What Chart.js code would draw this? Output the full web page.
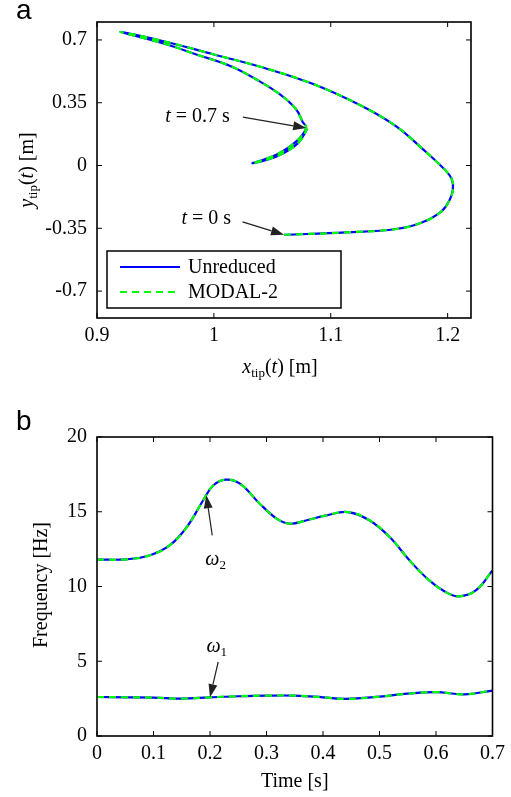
<!DOCTYPE html>
<html lang="en">
<head>
  <meta charset="UTF-8">
  <title>Tip trajectory and natural frequencies</title>
  <script src="https://cdn.jsdelivr.net/npm/chart.js"></script>
  <style>
    body { margin: 0; background: #fff; }
    canvas { position: absolute; left: 0; }
    #tipChart { top: 0; }
    #freqChart { top: 400px; }
  </style>
</head>
<body>
  <canvas id="tipChart" width="511" height="400"></canvas>
  <canvas id="freqChart" width="511" height="397"></canvas>

  <script>
    // Tip trajectory (t = 0 s first, t = 0.7 s last)
    const tipX = [1.060, 1.113, 1.156, 1.178, 1.195, 1.2015, 1.2045, 1.2035, 1.197, 1.179, 1.156, 1.127,
                  1.085, 1.042, 1.000, 0.957, 0.920,
                  0.957, 0.985, 1.014, 1.036, 1.056, 1.070, 1.076, 1.079,
                  1.070, 1.053, 1.033, 1.055, 1.072, 1.080];
    const tipY = [-0.386, -0.373, -0.354, -0.318, -0.254, -0.195, -0.135, -0.075, -0.020, 0.090, 0.218, 0.330,
                  0.454, 0.546, 0.619, 0.693, 0.744,
                  0.680, 0.619, 0.555, 0.481, 0.399, 0.316, 0.243, 0.209,
                  0.132, 0.059, 0.013, 0.055, 0.125, 0.205];
    const xTicksA = [0.9, 1.0, 1.1, 1.2];
    const xLabelsA = ['0.9', '1', '1.1', '1.2'];
    const yTicksA = [-0.7, -0.35, 0, 0.35, 0.7];
    const yLabelsA = ['-0.7', '-0.35', '0', '0.35', '0.7'];

    // Natural frequencies [Hz] against time [s]
    const timeW2 = [0, 0.053, 0.094, 0.129, 0.159, 0.188, 0.206, 0.228, 0.253, 0.288, 0.318, 0.341,
                    0.371, 0.406, 0.444, 0.482, 0.518, 0.553, 0.588, 0.617, 0.641, 0.671, 0.7];
    const omega2 = [11.8, 11.82, 12.09, 12.76, 13.98, 15.77, 16.77, 17.15, 16.88, 15.54, 14.54, 14.2,
                    14.43, 14.76, 14.98, 14.43, 13.31, 11.75, 10.41, 9.63, 9.34, 9.75, 11.08];
    const timeW1 = [0, 0.05, 0.1, 0.15, 0.2, 0.25, 0.3, 0.35, 0.4, 0.44, 0.5, 0.55, 0.6, 0.65, 0.7];
    const omega1 = [2.61, 2.59, 2.57, 2.50, 2.59, 2.66, 2.70, 2.70, 2.59, 2.48, 2.63, 2.83, 2.94, 2.79, 3.04];
    const xTicksB = [0, 0.1, 0.2, 0.3, 0.4, 0.5, 0.6, 0.7];
    const yTicksB = [0, 5, 10, 15, 20];

    const seriesNames = ['Unreduced', 'MODAL-2'];

    const SERIF = '"Liberation Serif", "Times New Roman", serif';
    const SANS = '"Liberation Sans", Arial, sans-serif';
    const BLUE = '#0000ff';
    const GREEN = '#00ff00';
    const DASH = [7, 5];

    function points(xs, ys) {
      return xs.map((x, i) => ({ x: x, y: ys[i] }));
    }

    // blue solid underneath, green dashed drawn on top (higher order is drawn first)
    function curvePair(xs, ys, tension) {
      return [
        { label: seriesNames[0], data: points(xs, ys), order: 2, borderColor: BLUE, borderWidth: 2.2,
          pointRadius: 0, showLine: true, tension: tension },
        { label: seriesNames[1], data: points(xs, ys), order: 1, borderColor: GREEN, borderWidth: 2.2,
          borderDash: DASH, pointRadius: 0, showLine: true, tension: tension }
      ];
    }

    // text with italic / subscript pieces, centred on (cx, cy)
    function richText(ctx, parts, cx, cy, size, rotate) {
      const fontOf = p => (p.it ? 'italic ' : '') + (p.sub ? Math.round(size * 0.65) : size) + 'px ' + SERIF;
      ctx.save();
      ctx.translate(cx, cy);
      if (rotate) ctx.rotate(-Math.PI / 2);
      let w = 0;
      parts.forEach(p => { ctx.font = fontOf(p); w += ctx.measureText(p.t).width; });
      let x = -w / 2;
      ctx.fillStyle = '#000';
      ctx.textAlign = 'left';
      ctx.textBaseline = 'alphabetic';
      parts.forEach(p => {
        ctx.font = fontOf(p);
        ctx.fillText(p.t, x, size * 0.33 + (p.sub ? size * 0.22 : 0));
        x += ctx.measureText(p.t).width;
      });
      ctx.restore();
    }

    function arrow(ctx, x0, y0, x1, y1) {
      const ang = Math.atan2(y1 - y0, x1 - x0);
      const len = 13, half = 4.5;
      const c = Math.cos(ang), s = Math.sin(ang);
      ctx.save();
      ctx.strokeStyle = '#222';
      ctx.fillStyle = '#222';
      ctx.lineWidth = 1.2;
      ctx.beginPath();
      ctx.moveTo(x0, y0);
      ctx.lineTo(x1 - len * c, y1 - len * s);
      ctx.stroke();
      ctx.beginPath();
      ctx.moveTo(x1, y1);
      ctx.lineTo(x1 - len * c + half * s, y1 - len * s - half * c);
      ctx.lineTo(x1 - len * c - half * s, y1 - len * s + half * c);
      ctx.closePath();
      ctx.fill();
      ctx.restore();
    }

    // box round the plot with inward ticks on all four sides
    function drawFrame(chart, xt, yt) {
      const { ctx, chartArea: a, scales } = chart;
      ctx.save();
      ctx.strokeStyle = '#000';
      ctx.lineWidth = 1;
      ctx.beginPath();
      xt.forEach(v => {
        const px = scales.x.getPixelForValue(v);
        ctx.moveTo(px, a.bottom); ctx.lineTo(px, a.bottom - 5);
        ctx.moveTo(px, a.top); ctx.lineTo(px, a.top + 5);
      });
      yt.forEach(v => {
        const py = scales.y.getPixelForValue(v);
        ctx.moveTo(a.left, py); ctx.lineTo(a.left + 5, py);
        ctx.moveTo(a.right, py); ctx.lineTo(a.right - 5, py);
      });
      ctx.stroke();
      ctx.lineWidth = 1.6;
      ctx.strokeRect(a.left, a.top, a.right - a.left, a.bottom - a.top);
      ctx.restore();
    }

    function tickAxis(min, max, values, labels, width, height, pad) {
      const axis = {
        type: 'linear', min: min, max: max,
        grid: { display: false, drawTicks: false },
        border: { display: false },
        ticks: {
          padding: pad,
          color: '#000',
          font: { family: SERIF, size: 20 },
          callback: (v, i) => labels[i]
        },
        afterBuildTicks: scale => { scale.ticks = values.map(v => ({ value: v })); }
      };
      if (width) axis.afterFit = scale => { scale.width = width; };
      if (height) axis.afterFit = scale => { scale.height = height; };
      return axis;
    }

    // ---- (a) tip trajectory ----
    const tipNotes = [
      { text: '0.7', tx: 0.986, ty: 0.281, ax: 1.0248, ay: 0.270, at: 24 },
      { text: '0', tx: 0.9935, ty: -0.290, ax: 1.0245, ay: -0.314, at: 0 }
    ];

    new Chart(document.getElementById('tipChart'), {
      type: 'scatter',
      data: { datasets: curvePair(tipX, tipY, 0.4) },
      options: {
        responsive: false,
        animation: false,
        layout: { padding: { top: 20, right: 40, left: 0, bottom: 0 } },
        plugins: { legend: { display: false }, tooltip: { enabled: false } },
        scales: {
          x: tickAxis(0.9, 1.22, xTicksA, xLabelsA, 0, 82, 6),
          y: tickAxis(-0.85, 0.8, yTicksA, yLabelsA, 97, 0, 10)
        }
      },
      plugins: [{
        id: 'decorA',
        afterDraw(chart) {
          const { ctx, chartArea: a, scales } = chart;
          drawFrame(chart, xTicksA, yTicksA);

          tipNotes.forEach(n => {
            arrow(ctx, scales.x.getPixelForValue(n.ax), scales.y.getPixelForValue(n.ay),
                  scales.x.getPixelForValue(tipX[n.at]), scales.y.getPixelForValue(tipY[n.at]));
            richText(ctx, [{ t: 't', it: true }, { t: ' = ' + n.text + ' s' }],
                     scales.x.getPixelForValue(n.tx), scales.y.getPixelForValue(n.ty), 20);
          });

          // legend
          const lx = a.left + 10, ly = a.bottom - 67, lw = 234, lh = 57;
          ctx.save();
          ctx.fillStyle = '#fff';
          ctx.fillRect(lx, ly, lw, lh);
          ctx.strokeStyle = '#000';
          ctx.lineWidth = 1.5;
          ctx.strokeRect(lx, ly, lw, lh);
          chart.data.datasets.forEach((ds, i) => {
            const yy = ly + 16 + i * 25;
            ctx.strokeStyle = ds.borderColor;
            ctx.lineWidth = 2.2;
            ctx.setLineDash(ds.borderDash || []);
            ctx.beginPath();
            ctx.moveTo(lx + 13, yy);
            ctx.lineTo(lx + 73, yy);
            ctx.stroke();
            ctx.setLineDash([]);
            ctx.fillStyle = '#000';
            ctx.font = '20px ' + SERIF;
            ctx.textBaseline = 'middle';
            ctx.fillText(ds.label, lx + 81, yy + 1);
          });
          ctx.restore();

          richText(ctx, [{ t: 'x', it: true }, { t: 'tip', sub: true }, { t: '(' }, { t: 't', it: true }, { t: ') [m]' }],
                   (a.left + a.right) / 2 - 4, 366, 20);
          richText(ctx, [{ t: 'y', it: true }, { t: 'tip', sub: true }, { t: '(' }, { t: 't', it: true }, { t: ') [m]' }],
                   26, 170, 20, true);

          ctx.save();
          ctx.fillStyle = '#000';
          ctx.font = '28px ' + SANS;
          ctx.textBaseline = 'alphabetic';
          ctx.fillText('a', 16, 19);
          ctx.restore();
        }
      }]
    });

    // ---- (b) natural frequencies ----
    const freqNotes = [
      { sub: '2', tx: 0.21, ty: 11.9, ax: 0.204, ay: 13.42, hx: 0.1935, hy: 16.1 },
      { sub: '1', tx: 0.212, ty: 6.07, ax: 0.2145, ay: 4.95, hx: 0.2, hy: 2.6 }
    ];

    new Chart(document.getElementById('freqChart'), {
      type: 'scatter',
      data: {
        datasets: curvePair(timeW2, omega2, 0.4).concat(curvePair(timeW1, omega1, 0.4))
      },
      options: {
        responsive: false,
        animation: false,
        layout: { padding: { top: 37, right: 18, left: 0, bottom: 0 } },
        plugins: { legend: { display: false }, tooltip: { enabled: false } },
        scales: {
          x: tickAxis(0, 0.7, xTicksB, xTicksB.map(String), 0, 61, 6),
          y: tickAxis(0, 20, yTicksB, yTicksB.map(String), 97, 0, 10)
        }
      },
      plugins: [{
        id: 'decorB',
        afterDraw(chart) {
          const { ctx, chartArea: a, scales } = chart;
          drawFrame(chart, xTicksB, yTicksB);

          freqNotes.forEach(n => {
            arrow(ctx, scales.x.getPixelForValue(n.ax), scales.y.getPixelForValue(n.ay),
                  scales.x.getPixelForValue(n.hx), scales.y.getPixelForValue(n.hy));
            richText(ctx, [{ t: 'ω', it: true }, { t: n.sub, sub: true }],
                     scales.x.getPixelForValue(n.tx), scales.y.getPixelForValue(n.ty), 20);
          });

          richText(ctx, [{ t: 'Time [s]' }], (a.left + a.right) / 2, 380, 20);
          richText(ctx, [{ t: 'Frequency [Hz]' }], 40, 185, 20, true);

          ctx.save();
          ctx.fillStyle = '#000';
          ctx.font = '28px ' + SANS;
          ctx.textBaseline = 'alphabetic';
          ctx.fillText('b', 16, 30);
          ctx.restore();
        }
      }]
    });
  </script>
</body>
</html>
